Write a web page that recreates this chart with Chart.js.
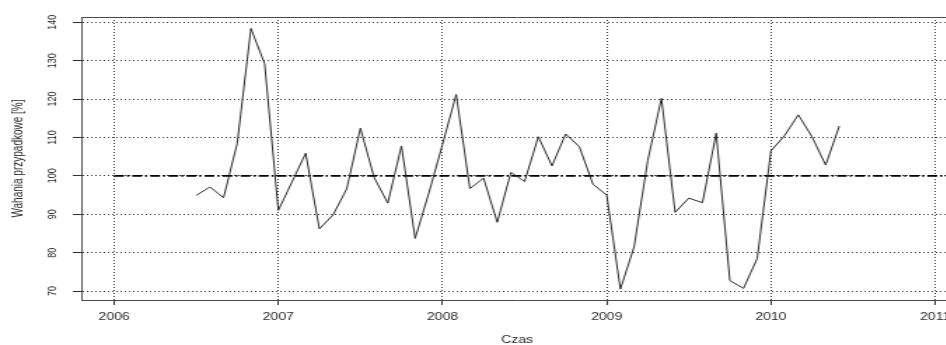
<!DOCTYPE html>
<html>
<head>
<meta charset="utf-8">
<script src="https://cdn.jsdelivr.net/npm/chart.js@4.4.1/dist/chart.umd.min.js"></script>
<style>
  html, body { margin: 0; padding: 0; background: #fff; overflow: hidden; width: 946px; height: 345px; }
  canvas { display: block; }
</style>
</head>
<body>
<canvas id="c" width="691" height="352" style="width:968px;height:352px"></canvas>
<script>
// Monthly observations, July 2006 - June 2010
const months = [
  '2006-07','2006-08','2006-09','2006-10','2006-11','2006-12',
  '2007-01','2007-02','2007-03','2007-04','2007-05','2007-06','2007-07','2007-08','2007-09','2007-10','2007-11','2007-12',
  '2008-01','2008-02','2008-03','2008-04','2008-05','2008-06','2008-07','2008-08','2008-09','2008-10','2008-11','2008-12',
  '2009-01','2009-02','2009-03','2009-04','2009-05','2009-06','2009-07','2009-08','2009-09','2009-10','2009-11','2009-12',
  '2010-01','2010-02','2010-03','2010-04','2010-05','2010-06'
];
// Random (irregular) component, percent
const values = [
  94.9, 97.1, 94.3, 108.5, 138.4, 129.2,
  91.0, 98.4, 105.9, 86.2, 89.8, 96.6, 112.4, 99.6, 92.9, 107.8, 83.7, 95.5,
  108.2, 121.2, 96.7, 99.4, 87.9, 100.9, 98.5, 110.2, 102.6, 110.9, 107.6, 97.8,
  95.0, 70.5, 81.5, 104.0, 120.2, 90.5, 94.2, 93.0, 111.1, 72.7, 70.7, 78.5,
  106.5, 110.5, 115.9, 110.2, 102.8, 113.0
];
const yearTicks = [2006, 2007, 2008, 2009, 2010, 2011];
const valueTicks = [70, 80, 90, 100, 110, 120, 130, 140];
const referenceLevel = 100;
const referenceSpan = [2006, 2012];

const toYear = m => {
  const [y, mo] = m.split('-').map(Number);
  return y + (mo - 1) / 12;
};
const seriesPoints = months.map((m, i) => ({ x: toYear(m), y: values[i] }));
const referencePoints = referenceSpan.map(x => ({ x, y: referenceLevel }));

const FONT = 'Liberation Sans, Arial, Helvetica, sans-serif';
const TEXT = '#2a2a2a';
const GRID = '#3a3a3a';
const BOX = '#4a4a4a';

new Chart(document.getElementById('c'), {
  type: 'line',
  data: {
    datasets: [
      {
        data: seriesPoints,
        borderColor: '#2a2a2a',
        borderWidth: 1,
        pointRadius: 0,
        tension: 0,
        fill: false
      },
      {
        data: referencePoints,
        borderColor: '#000',
        borderWidth: 1.6,
        borderDash: [7, 2.2, 1.5, 2.2],
        pointRadius: 0,
        fill: false
      }
    ]
  },
  options: {
    responsive: false,
    animation: false,
    events: [],
    layout: { padding: { top: 17, right: 10.7, left: 0, bottom: 0 } },
    plugins: { legend: { display: false }, tooltip: { enabled: false } },
    scales: {
      x: {
        type: 'linear',
        position: 'bottom',
        min: 2005.8,
        max: 2011.109,
        afterBuildTicks: s => { s.ticks = yearTicks.map(v => ({ value: v })); },
        afterFit: s => { s.height = 52; },
        ticks: {
          callback: v => String(v),
          font: { family: FONT, size: 10 },
          color: TEXT,
          padding: 6.5,
          maxRotation: 0,
          autoSkip: false
        },
        grid: {
          color: GRID,
          lineWidth: 1,
          drawTicks: true,
          tickLength: 5,
          tickColor: '#333',
          tickBorderDash: []
        },
        border: { display: true, color: BOX, width: 1, dash: [1, 2] },
        title: {
          display: true,
          text: 'Czas',
          font: { family: FONT, size: 10 },
          color: TEXT,
          padding: { top: 0, bottom: 6 }
        }
      },
      xTop: {
        type: 'linear',
        position: 'top',
        min: 2005.8,
        max: 2011.109,
        afterFit: s => { s.height = 0; },
        ticks: { display: false },
        grid: { display: false, drawTicks: false },
        border: { display: true, color: BOX, width: 1 }
      },
      y: {
        type: 'linear',
        position: 'left',
        min: 67.66,
        max: 141.38,
        afterBuildTicks: s => { s.ticks = valueTicks.map(v => ({ value: v })); },
        afterFit: s => { s.width = 58; },
        ticks: {
          callback: v => String(v),
          font: { family: FONT, size: 9 },
          color: TEXT,
          minRotation: 90,
          maxRotation: 90,
          crossAlign: 'center',
          padding: 7.4,
          autoSkip: false
        },
        grid: {
          color: GRID,
          lineWidth: 1,
          drawTicks: true,
          tickLength: 6,
          tickColor: '#333',
          tickBorderDash: []
        },
        border: { display: true, color: BOX, width: 1, dash: [1, 2] },
        title: {
          display: true,
          text: 'Wahania przypadkowe [%]',
          font: { family: FONT, size: 10 },
          color: TEXT,
          padding: { top: 7.6, bottom: 0 }
        }
      }
    }
  }
});
</script>
</body>
</html>
